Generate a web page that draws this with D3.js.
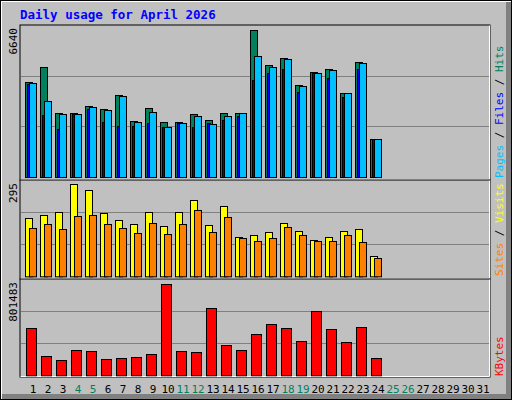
<!DOCTYPE html>
<html><head><meta charset="utf-8">
<script src="https://cdn.jsdelivr.net/npm/d3@7"></script>
<style>body{margin:0;background:#fff}text{font-family:"DejaVu Sans Mono",monospace}</style>
</head><body><svg width="512" height="400"></svg>
<script>
const days = d3.range(1, 32);
const weekend = [4, 5, 11, 12, 18, 19, 25, 26];
const hits = [4263,4938,2868,2868,3183,3048,3678,2507,3093,2462,2462,2823,2553,2868,2868,6640,5029,5344,4128,4713,4848,3768,5164,1697];
const files = [4187,2778,2161,2823,3061,2463,2283,2296,2418,2237,2418,2251,2418,2566,2733,4367,4668,4848,3813,4668,4443,3588,4848,1697];
const pages = [4218,3408,2823,2823,3138,3003,3633,2462,2913,2237,2418,2733,2373,2733,2868,5434,4938,5299,4083,4668,4803,3768,5119,1697];
const visits = [186,196,205,295,276,202,180,167,205,160,205,244,164,224,125,131,141,170,144,115,125,144,151,64];
const sites = [154,167,151,192,196,167,154,138,170,135,167,212,141,189,122,112,122,157,131,112,112,131,109,58];
const kbytes = [413948,167340,132111,220185,211378,140918,149726,158533,184955,801483,211378,202570,590096,264222,220185,361103,449177,413948,299452,563674,405140,290644,422755,149726];

const svg = d3.select("svg");
svg.append("rect").attr("width", 512).attr("height", 400).attr("fill", "#000");
svg.append("rect").attr("x", 1).attr("y", 1).attr("width", 510).attr("height", 398).attr("fill", "#fff");
svg.append("rect").attr("x", 2).attr("y", 2).attr("width", 509).attr("height", 397).attr("fill", "#808080");
svg.append("rect").attr("x", 2).attr("y", 2).attr("width", 504).attr("height", 392).attr("fill", "#c0c0c0");

svg.append("text").attr("x", 20).attr("y", 19).attr("fill", "#0000ff")
	.attr("font-weight", "bold").attr("font-size", 12.5).text("Daily usage for April 2026");

const x = d3.scaleBand().domain(days).range([20, 485]);

const panels = [
	{ top: 25, bottom: 180, base: 177, peak: 29.5, max: 6640 },
	{ top: 180, bottom: 279, base: 276.3, peak: 184.3, max: 295 },
	{ top: 279, bottom: 377, base: 375.3, peak: 284.3, max: 801483 },
];

panels.forEach(p => {
	p.y = d3.scaleLinear().domain([0, p.max]).range([p.base, p.peak]);
	svg.append("rect").attr("x", 20).attr("y", p.top).attr("width", 470).attr("height", p.bottom - p.top)
		.attr("fill", "#c0c0c0").attr("stroke", "#000");
	svg.append("path").attr("d", `M20.5,${p.bottom - 0.5}H489.5V${p.top + 0.5}`).attr("fill", "none").attr("stroke", "#fff");
	// grid lines, 3 equal steps from the base
	const step = (p.base - p.top) / 3;
	[1, 2].forEach(k => svg.append("line").attr("x1", 21).attr("x2", 489)
		.attr("y1", Math.round(p.base - k * step) + 0.5).attr("y2", Math.round(p.base - k * step) + 0.5)
		.attr("stroke", "#808080"));
	svg.append("text").attr("transform", `translate(17,${p.top + 3}) rotate(-90)`)
		.attr("text-anchor", "end").attr("font-size", 11).attr("fill", "#000").text(p.max);
});

function bars(panel, data, dx, w, color) {
	svg.append("g").selectAll("rect").data(data).join("rect")
		.attr("x", (d, i) => x(i + 1) + dx + 0.5)
		.attr("y", d => Math.round(panel.y(d)) + 0.5)
		.attr("width", w)
		.attr("height", d => panel.base - Math.round(panel.y(d)))
		.attr("fill", color).attr("stroke", "#000");
}

bars(panels[0], hits, 5, 7, "#00805c");
bars(panels[0], files, 7, 3, "#0000ff");
bars(panels[0], pages, 9, 7, "#00c0ff");
bars(panels[1], visits, 5, 7, "#ffff00");
bars(panels[1], sites, 9, 7, "#ff8000");
bars(panels[2], kbytes, 6, 10, "#ff0000");

svg.append("g").selectAll("text").data(days).join("text")
	.attr("x", d => x(d) + 13).attr("y", 393).attr("text-anchor", "middle")
	.attr("font-size", 11).attr("fill", d => weekend.includes(d) ? "#00805c" : "#000")
	.text(d => d);

function sideLabel(y, parts) {
	const t = svg.append("text").attr("transform", `translate(503,${y}) rotate(-90)`)
		.attr("font-size", 11);
	parts.forEach(([s, c]) => t.append("tspan").attr("fill", c).text(s));
}
sideLabel(178, [["Pages", "#00c0ff"], [" / ", "#000"], ["Files", "#0000ff"], [" / ", "#000"], ["Hits", "#00805c"]]);
sideLabel(276, [["Sites", "#ff8000"], [" / ", "#000"], ["Visits", "#ffff00"]]);
sideLabel(376, [["KBytes", "#ff0000"]]);
</script></body></html>
